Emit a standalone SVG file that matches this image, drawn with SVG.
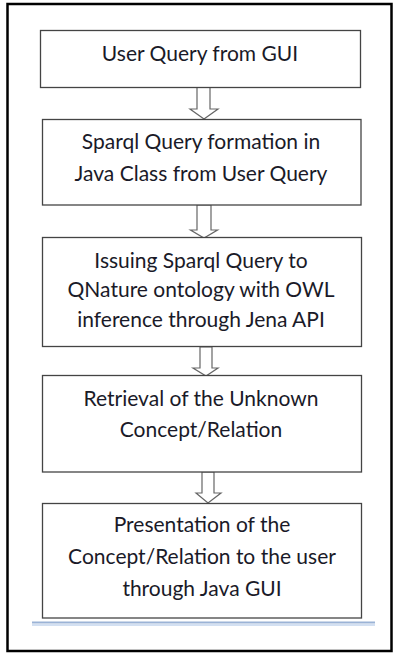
<svg xmlns="http://www.w3.org/2000/svg" width="393" height="653" viewBox="0 0 393 653">
<style>
.frame{fill:none;stroke:#000;stroke-width:2.5}
.box{fill:#fff;stroke:#444;stroke-width:1.3}
.arrow{fill:#fff;stroke:#666;stroke-width:1.2;stroke-linejoin:miter}
.t{font-family:"Lato","Open Sans","Liberation Sans",sans-serif;font-size:21px;fill:#1a1a28;text-anchor:middle}
</style>
<rect x="0" y="0" width="393" height="653" fill="#fff"/>
<rect class="frame" x="7.5" y="4" width="384" height="647"/>
<g id="connectors">
<polygon class="arrow" points="197,87 210,87 210,109 218,109 204,119 190,109 197,109"/>
<polygon class="arrow" points="197,205 211,205 211,230 217.5,230 204,238 190.5,230 197,230"/>
<polygon class="arrow" points="200,347 212,347 212,368 218,368 206,376 193,368 200,368"/>
<polygon class="arrow" points="202,472 214,472 214,493 221,493 208,503 196,493 202,493"/>
</g>
<g id="node1">
<rect class="box" x="40.5" y="30.5" width="320" height="57"/>
<text class="t" x="200" y="60.5">User Query from GUI</text>
</g>
<g id="node2">
<rect class="box" x="42.5" y="119.5" width="318.5" height="85.5"/>
<text class="t" x="201" y="149">Sparql Query formation in</text>
<text class="t" x="201" y="181">Java Class from User Query</text>
</g>
<g id="node3">
<rect class="box" x="42.5" y="237.5" width="319" height="109"/>
<text class="t" x="201" y="268">Issuing Sparql Query to</text>
<text class="t" x="201" y="297">QNature ontology with OWL</text>
<text class="t" x="201" y="327">inference through Jena API</text>
</g>
<g id="node4">
<rect class="box" x="42.5" y="375.5" width="319" height="96.5"/>
<text class="t" x="201" y="406">Retrieval of the Unknown</text>
<text class="t" x="201" y="437">Concept/Relation</text>
</g>
<g id="node5">
<rect class="box" x="42.5" y="503.5" width="319" height="114.5"/>
<text class="t" x="202" y="532">Presentation of the</text>
<text class="t" x="202" y="564">Concept/Relation to the user</text>
<text class="t" x="202" y="596">through Java GUI</text>
</g>
<rect x="32" y="621.5" width="343" height="2" fill="#9bb3d6"/>
<rect x="32" y="624" width="343" height="2" fill="#d3e0f2"/>
</svg>
